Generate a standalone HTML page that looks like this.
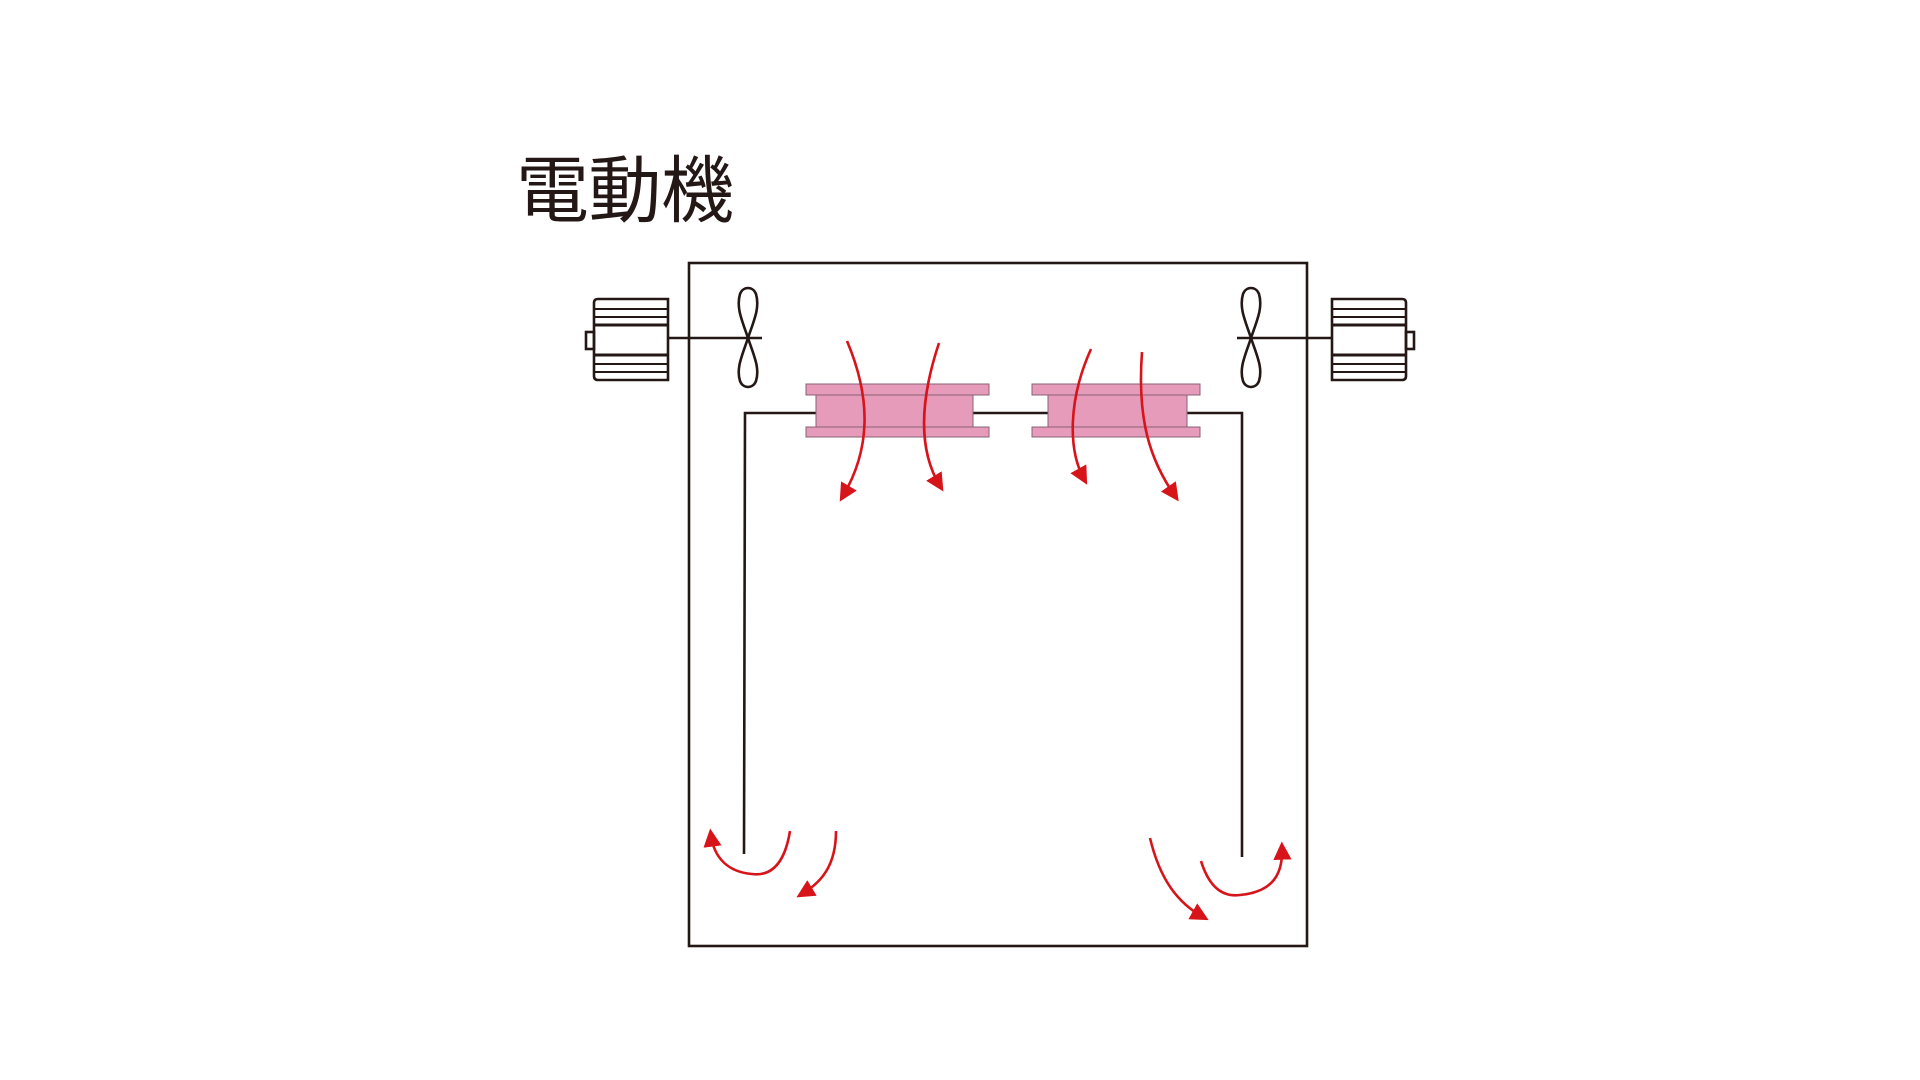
<!DOCTYPE html>
<html><head><meta charset="utf-8"><style>html,body{margin:0;padding:0;background:#fff;}svg{display:block}</style></head>
<body>
<svg width="1920" height="1080" viewBox="0 0 1920 1080" xmlns="http://www.w3.org/2000/svg">
<defs>
<marker id="ah" markerWidth="7" markerHeight="7" refX="4.5" refY="3.5" orient="auto" markerUnits="strokeWidth">
<path d="M0,0 L7,3.5 L0,7 Z" fill="#d7141a"/>
</marker>
</defs>
<text x="516" y="216" font-family="'Liberation Sans','Noto Sans CJK JP',sans-serif" font-size="73" fill="#231815" textLength="218">電動機</text>
<g fill="none" stroke="#231815" stroke-width="2.6">
<rect x="689" y="263" width="618" height="683"/>
<polyline points="744,854 745,413 816,413"/>
<line x1="973" y1="413" x2="1048" y2="413"/>
<polyline points="1187,413 1242,413 1242,857"/>
<line x1="668" y1="338" x2="762" y2="338"/>
<line x1="1237" y1="338" x2="1332" y2="338"/>
<path d="M598,299 H668 V380 H598 Q594,380 594,376 V303 Q594,299 598,299 Z"/>
<rect x="586" y="332" width="8" height="17"/>
<g stroke-width="2">
<line x1="594" y1="309" x2="668" y2="309"/>
<line x1="594" y1="317" x2="668" y2="317"/>
<line x1="594" y1="325" x2="668" y2="325" stroke-width="3"/>
<line x1="594" y1="355" x2="668" y2="355" stroke-width="3"/>
<line x1="594" y1="364" x2="668" y2="364"/>
<line x1="594" y1="372" x2="668" y2="372"/>
</g>
<path d="M1332,299 H1402 Q1406,299 1406,303 V376 Q1406,380 1402,380 H1332 Z"/>
<rect x="1406" y="332" width="8" height="17"/>
<g stroke-width="2">
<line x1="1332" y1="309" x2="1406" y2="309"/>
<line x1="1332" y1="317" x2="1406" y2="317"/>
<line x1="1332" y1="325" x2="1406" y2="325" stroke-width="3"/>
<line x1="1332" y1="355" x2="1406" y2="355" stroke-width="3"/>
<line x1="1332" y1="364" x2="1406" y2="364"/>
<line x1="1332" y1="372" x2="1406" y2="372"/>
</g>
<path d="M748,338 C742,320 736,308 740,294 C743,286 753,286 756,294 C760,308 754,320 748,338 C742,356 736,368 740,381 C743,389 753,389 756,381 C760,368 754,356 748,338 Z"/>
<path d="M1251,338 C1245,320 1239,308 1243,294 C1246,286 1256,286 1259,294 C1263,308 1257,320 1251,338 C1245,356 1239,368 1243,381 C1246,389 1256,389 1259,381 C1263,368 1257,356 1251,338 Z"/>
</g>
<g fill="#e69bbb" stroke="#8a6275" stroke-width="1">
<rect x="816" y="395" width="157" height="32"/>
<rect x="806" y="384" width="183" height="11"/>
<rect x="806" y="427" width="183" height="10"/>
<rect x="1048" y="395" width="139" height="32"/>
<rect x="1032" y="384" width="168" height="11"/>
<rect x="1032" y="427" width="168" height="10"/>
</g>
<g fill="none" stroke="#d7141a" stroke-width="2.6" marker-end="url(#ah)">
<path d="M847,341 C872,400 870,450 843,496"/>
<path d="M939,343 C920,400 918,450 940,486"/>
<path d="M1091,349 C1068,400 1068,450 1084,479"/>
<path d="M1142,352 C1137,420 1150,460 1175,496"/>
<path d="M790,831 C784,868 768,876 752,874 C728,872 714,858 711,835"/>
<path d="M836,831 C836,865 822,882 802,894"/>
<path d="M1150,838 C1160,880 1178,903 1203,917"/>
<path d="M1201,861 C1210,890 1225,897 1240,895 C1272,892 1283,875 1282,848"/>
</g>
</svg>
</body></html>
